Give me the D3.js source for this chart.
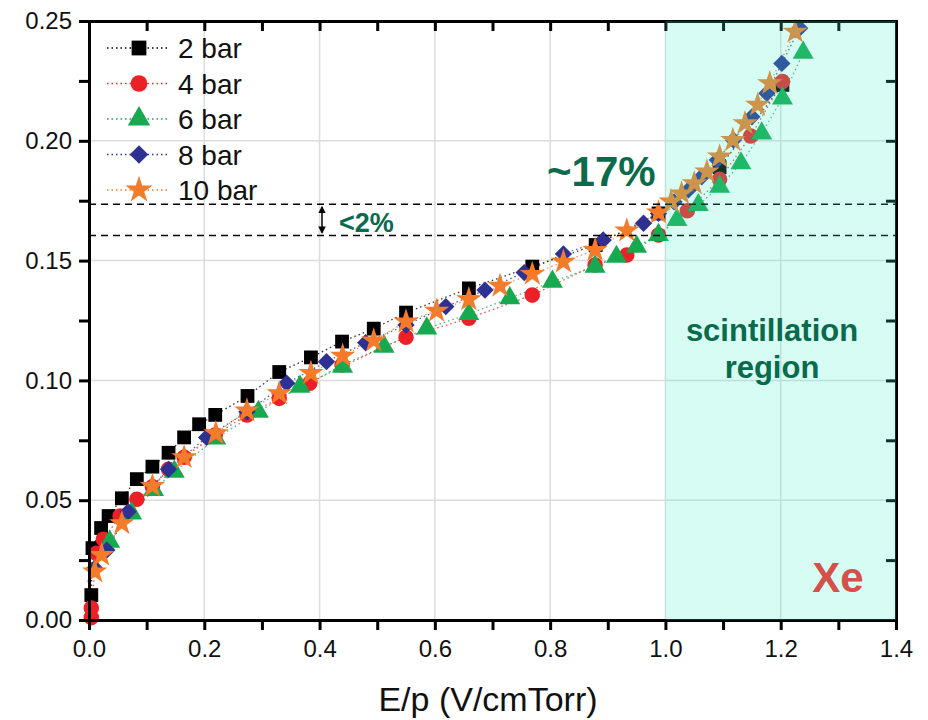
<!DOCTYPE html>
<html>
<head>
<meta charset="utf-8">
<script src="https://cdn.jsdelivr.net/npm/d3@7"></script>
<style>
  html, body { margin: 0; padding: 0; background: #fff; }
  svg { display: block; font-family: "Liberation Sans", Arial, sans-serif; }
</style>
</head>
<body>
<svg id="chart" width="928" height="720"></svg>
<script>
// Drift velocity-like curves for Xe at different pressures
const seriesNames = ["2 bar", "4 bar", "6 bar", "8 bar", "10 bar"];

const x2bar = [0.004,0.006,0.021,0.034,0.057,0.083,0.110,0.138,0.165,0.191,0.219,0.275,0.330,0.385,0.439,0.494,0.550,0.659,0.769,0.879,0.988,1.094,1.203];
const y2bar = [0.0104,0.030,0.0384,0.0434,0.0508,0.0588,0.064,0.0698,0.0762,0.0817,0.0856,0.0935,0.1035,0.1096,0.1162,0.1216,0.1283,0.1384,0.1475,0.1565,0.1697,0.189,0.2233];

const x4bar = [0.004,0.004,0.013,0.025,0.054,0.083,0.110,0.138,0.165,0.219,0.274,0.330,0.383,0.439,0.550,0.659,0.769,0.878,0.933,0.988,1.038,1.094,1.148,1.203];
const y4bar = [0.001,0.005,0.0278,0.0337,0.0434,0.0504,0.0556,0.0629,0.0679,0.0772,0.0856,0.0925,0.0988,0.1064,0.118,0.1259,0.1356,0.1482,0.1523,0.1607,0.1708,0.1839,0.202,0.2247];

const x6bar = [0.036,0.074,0.112,0.148,0.220,0.294,0.366,0.440,0.512,0.586,0.659,0.730,0.804,0.878,0.915,0.950,0.988,1.020,1.057,1.094,1.131,1.167,1.203,1.239];
const y6bar = [0.0327,0.0445,0.0543,0.0619,0.0758,0.0869,0.0974,0.1057,0.1141,0.1217,0.1277,0.1343,0.1412,0.1475,0.1516,0.1558,0.1607,0.167,0.1732,0.1808,0.1906,0.2031,0.2177,0.2368];

const x8bar = [0.010,0.031,0.068,0.138,0.204,0.274,0.343,0.412,0.480,0.550,0.619,0.687,0.755,0.823,0.892,0.962,0.988,1.015,1.040,1.063,1.090,1.118,1.150,1.176,1.202,1.233];
const y8bar = [0.0216,0.0292,0.0452,0.0629,0.0762,0.0869,0.0988,0.1078,0.1157,0.1231,0.1308,0.1377,0.145,0.1528,0.1586,0.1656,0.1697,0.1745,0.1795,0.185,0.192,0.2003,0.21,0.2198,0.2323,0.247];

const x10bar = [0.010,0.022,0.057,0.110,0.165,0.220,0.274,0.330,0.385,0.440,0.494,0.550,0.603,0.659,0.713,0.769,0.823,0.878,0.933,0.988,1.010,1.028,1.050,1.072,1.094,1.117,1.138,1.160,1.181,1.225];
const y10bar = [0.0202,0.0271,0.0403,0.0559,0.0679,0.0779,0.0874,0.0946,0.103,0.1102,0.1166,0.1245,0.129,0.1338,0.1394,0.1444,0.1495,0.1544,0.1625,0.170,0.1746,0.178,0.1822,0.1871,0.1934,0.2003,0.2073,0.215,0.224,0.2455];

const xTicks = [0.0, 0.2, 0.4, 0.6, 0.8, 1.0, 1.2, 1.4];
const yTicks = [0.00, 0.05, 0.10, 0.15, 0.20, 0.25];
const bandLevels = [0.1605, 0.1735];   // dashed reference levels
const regionStart = 1.0;              // scintillation region begins

const colors = ["#000000", "#ec2127", "#17a94f", "#2e3192", "#f47b2a"];
const symbols = [d3.symbolSquare, d3.symbolCircle, d3.symbolTriangle, d3.symbolSquare, d3.symbolStar];
const symSizes = [190, 190, 190, 150, 200];
const symRot = [0, 0, 0, 45, 0];

const xs = [x2bar, x4bar, x6bar, x8bar, x10bar];
const ys = [y2bar, y4bar, y6bar, y8bar, y10bar];
const series = seriesNames.map((name, i) => ({
  name, color: colors[i],
  points: xs[i].map((xv, j) => ({ x: xv, y: ys[i][j] }))
}));

const svg = d3.select("#chart");
const L = 89, R = 896, T = 21, B = 620;
const x = d3.scaleLinear().domain([0, 1.4]).range([L, R]);
const y = d3.scaleLinear().domain([0, 0.25]).range([B, T]);

// gridlines
const grid = svg.append("g").attr("stroke", "#dcdcdc").attr("stroke-width", 1.5);
xTicks.slice(1, -1).forEach(t => grid.append("line").attr("x1", x(t)).attr("x2", x(t)).attr("y1", T).attr("y2", B));
yTicks.slice(1, -1).forEach(t => grid.append("line").attr("x1", L).attr("x2", R).attr("y1", y(t)).attr("y2", y(t)));

// dotted connectors
const line = d3.line().x(d => x(d.x)).y(d => y(d.y));
series.forEach(s => {
  svg.append("path").datum(s.points).attr("d", line)
    .attr("fill", "none").attr("stroke", s.color).attr("stroke-width", 1.3)
    .attr("stroke-dasharray", "1.5,3").attr("opacity", 0.8);
});

// markers
series.forEach((s, i) => {
  const sym = d3.symbol().type(symbols[i]).size(symSizes[i]);
  svg.append("g").selectAll("path").data(s.points).join("path")
    .attr("d", sym)
    .attr("transform", d => `translate(${x(d.x)},${y(d.y)}) rotate(${symRot[i]})`)
    .attr("fill", s.color);
});

// dashed reference lines
bandLevels.forEach(v => {
  svg.append("line").attr("x1", L).attr("x2", R).attr("y1", y(v)).attr("y2", y(v))
    .attr("stroke", "#000").attr("stroke-width", 1.6).attr("stroke-dasharray", "7,5");
});

// axes
const fmtX = d3.format(".1f"), fmtY = d3.format(".2f");
const xAxis = svg.append("g").attr("transform", `translate(0,${B})`)
  .call(d3.axisBottom(x).tickValues(d3.range(0, 1.41, 0.1)).tickSize(10).tickPadding(10)
    .tickFormat(d => xTicks.some(t => Math.abs(t - d) < 1e-6) ? fmtX(d) : ""));
const yAxis = svg.append("g").attr("transform", `translate(${L},0)`)
  .call(d3.axisLeft(y).tickValues(d3.range(0, 0.2501, 0.025)).tickSize(10).tickPadding(7)
    .tickFormat(d => yTicks.some(t => Math.abs(t - d) < 1e-6) ? fmtY(d) : ""));
const xTop = svg.append("g").attr("transform", `translate(0,${T})`)
  .call(d3.axisTop(x).tickValues(d3.range(0, 1.41, 0.1)).tickSize(-10).tickFormat(""));
const yRight = svg.append("g").attr("transform", `translate(${R},0)`)
  .call(d3.axisRight(y).tickValues(d3.range(0, 0.2501, 0.025)).tickSize(-10).tickFormat(""));
[xAxis, yAxis, xTop, yRight].forEach(g => {
  g.select(".domain").attr("stroke", "#000").attr("stroke-width", 3);
  g.selectAll(".tick line").attr("stroke", "#000").attr("stroke-width", 3);
  g.selectAll(".tick text").attr("fill", "#111").attr("font-size", 24)
    .attr("font-family", "'Liberation Sans', Arial, sans-serif");
});

// translucent tint over the scintillation region
svg.append("rect").attr("x", x(regionStart)).attr("y", T).attr("width", R - x(regionStart)).attr("height", B - T)
  .attr("fill", "rgb(60,242,200)").attr("fill-opacity", 0.21);

// axis title
svg.append("text").attr("x", 488).attr("y", 711).attr("text-anchor", "middle")
  .attr("font-size", 34).attr("fill", "#111").text("E/p (V/cmTorr)");

// legend
const legend = svg.append("g");
series.forEach((s, i) => {
  const ly = 48 + i * 35.5;
  legend.append("line").attr("x1", 107).attr("x2", 168).attr("y1", ly).attr("y2", ly)
    .attr("stroke", s.color).attr("stroke-width", 1.3).attr("stroke-dasharray", "1.5,3");
  legend.append("path").attr("d", d3.symbol().type(symbols[i]).size(symSizes[i] * 1.15)())
    .attr("transform", `translate(139,${ly}) rotate(${symRot[i]})`).attr("fill", s.color);
  legend.append("text").attr("x", 178).attr("y", ly + 10).attr("font-size", 28).attr("fill", "#111").text(s.name);
});

// annotations
const green = "#0a6a4c";
svg.append("text").attr("x", 547).attr("y", 186).attr("font-size", 42).attr("font-weight", "bold")
  .attr("fill", green).text("~17%");
svg.append("text").attr("x", 339).attr("y", 232).attr("font-size", 27).attr("font-weight", "bold")
  .attr("fill", green).text("<2%");
const ax = 322;
svg.append("defs").html(`<marker id="ah" viewBox="0 0 10 10" refX="8" refY="5" markerWidth="5" markerHeight="5" orient="auto-start-reverse"><path d="M0,0 L10,5 L0,10 z" fill="#000"/></marker>`);
svg.append("line").attr("x1", ax).attr("x2", ax).attr("y1", y(bandLevels[1]) + 3).attr("y2", y(bandLevels[0]) - 3)
  .attr("stroke", "#000").attr("stroke-width", 1.5)
  .attr("marker-start", "url(#ah)").attr("marker-end", "url(#ah)");
svg.append("text").attr("x", 772).attr("y", 341).attr("text-anchor", "middle").attr("font-size", 31)
  .attr("font-weight", "bold").attr("fill", green).text("scintillation");
svg.append("text").attr("x", 772).attr("y", 378).attr("text-anchor", "middle").attr("font-size", 31)
  .attr("font-weight", "bold").attr("fill", green).text("region");
svg.append("text").attr("x", 838).attr("y", 592).attr("text-anchor", "middle").attr("font-size", 42)
  .attr("font-weight", "bold").attr("fill", "#d4504b").text("Xe");
</script>
</body>
</html>
